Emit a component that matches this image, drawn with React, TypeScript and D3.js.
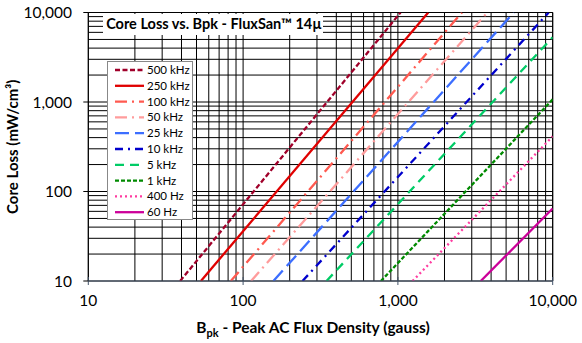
import React from "react";
import * as d3 from "d3";

const seriesNames = ["500 kHz", "250 kHz", "100 kHz", "50 kHz", "25 kHz", "10 kHz", "5 kHz", "1 kHz", "400 Hz", "60 Hz"];
const seriesColors = ["#A0002A", "#E00000", "#FF5A50", "#FF9C9C", "#3C6EFF", "#0000CC", "#00CC66", "#008A00", "#FF3BA0", "#CC0099"];
const seriesDashes = ["5,2.5", "", "12,5,2,5", "12,5,2,5", "14,6", "8,5,2,5", "9,6", "4,2", "2,3", ""];
const s500k = [[39.2, 10], [1040, 10000]];
const s250k = [[53.4, 10], [1570, 10000]];
const s100k = [[83.3, 10], [2590, 10000]];
const s50k = [[112.6, 10], [3780, 10000]];
const s25k = [[157, 10], [5600, 10000]];
const s10k = [[242, 10], [9420, 10000]];
const s5k = [[346, 10], [10000, 5290]];
const s1k = [[777, 10], [10000, 1069]];
const s400 = [[1244, 10], [10000, 413]];
const s60 = [[3431, 10], [10000, 64.6]];
const seriesData = [s500k, s250k, s100k, s50k, s25k, s10k, s5k, s1k, s400, s60];
const xTicks = [10, 100, 1000, 10000];
const yTicks = [10, 100, 1000, 10000];

const W = 582, H = 343;
const L = 88.3, R = 552.7, T = 12.5, B = 281;
const FONT = "Lato, 'Open Sans', sans-serif";

export default function App() {
  const x = d3.scaleLog().domain([10, 10000]).range([L, R]);
  const y = d3.scaleLog().domain([10, 10000]).range([B, T]);
  const fmt = d3.format(",");
  const minor: number[] = [];
  for (let e = 1; e < 4; e++) for (let m = 1; m <= 9; m++) minor.push(m * Math.pow(10, e));
  minor.push(10000);
  const line = d3.line<number[]>().x(d => x(d[0])).y(d => y(d[1]));

  return (
    <svg width={W} height={H} style={{ position: "absolute", left: 0, top: 0, background: "#fff" }}>
      <defs>
        <clipPath id="plot"><rect x={L} y={T} width={R - L} height={B - T} /></clipPath>
      </defs>
      {minor.map((v, i) => (
        <line key={"gx" + i} x1={x(v)} x2={x(v)} y1={T} y2={B} stroke="#000" strokeWidth={1} />
      ))}
      {minor.map((v, i) => (
        <line key={"gy" + i} x1={L} x2={R} y1={y(v)} y2={y(v)} stroke="#000" strokeWidth={1} />
      ))}
      <line x1={L} x2={L} y1={T} y2={B} stroke="#000" strokeWidth={1} />
      <line x1={R} x2={R} y1={T} y2={B} stroke="#000" strokeWidth={1} />
      <line x1={L} x2={R} y1={T} y2={T} stroke="#000" strokeWidth={1} />
      <g clipPath="url(#plot)">
        {seriesData.map((d, i) => (
          <path key={"s" + i} d={line(d) || ""} fill="none" stroke={seriesColors[i]} strokeWidth={2.3}
            strokeDasharray={seriesDashes[i] || undefined} />
        ))}
      </g>
      <line x1={L} x2={R} y1={B} y2={B} stroke="#44546A" strokeWidth={1} />
      {xTicks.map((v, i) => (
        <line key={"xt" + i} x1={x(v)} x2={x(v)} y1={B - 4} y2={B + 4} stroke="#44546A" strokeWidth={1} />
      ))}
      {xTicks.map((v, i) => (
        <text key={"xl" + i} x={x(v)} y={B + 25} textAnchor="middle" fontFamily={FONT} fontSize={15.5} fill="#000">{fmt(v)}</text>
      ))}
      {yTicks.map((v, i) => (
        <line key={"yt" + i} x1={L - 5} x2={L} y1={y(v)} y2={y(v)} stroke="#000" strokeWidth={1} />
      ))}
      {yTicks.map((v, i) => (
        <text key={"yl" + i} x={72} y={y(v) + 5.5} textAnchor="end" fontFamily={FONT} fontSize={15.5} fill="#000">{fmt(v)}</text>
      ))}
      <text transform={`translate(18,${(T + B) / 2}) rotate(-90)`} textAnchor="middle" fontFamily={FONT} fontSize={15} fontWeight="bold" fill="#000">
        Core Loss (mW/cm³)
      </text>
      <text x={313} y={333} textAnchor="middle" fontFamily={FONT} fontSize={15.5} fontWeight="bold" fill="#000">
        B<tspan fontSize={11} dy={4}>pk</tspan><tspan dy={-4}> - Peak AC Flux Density (gauss)</tspan>
      </text>
      <rect x={103} y={14} width={220} height={21} fill="#fff" />
      <text x={214} y={29} textAnchor="middle" fontFamily={FONT} fontSize={14.5} fontWeight="bold" fill="#000">
        Core Loss vs. Bpk - FluxSan™ 14µ
      </text>
      <rect x={107.5} y={61.5} width={85} height={158} fill="#fff" stroke="#888" strokeWidth={1} />
      {seriesNames.map((n, i) => {
        const yy = 70 + i * 15.8;
        return (
          <g key={"lg" + i}>
            <line x1={115} x2={144} y1={yy} y2={yy} stroke={seriesColors[i]} strokeWidth={2.3}
              strokeDasharray={seriesDashes[i] || undefined} />
            <text x={147} y={yy + 4} fontFamily={FONT} fontSize={11.5} fill="#000">{n}</text>
          </g>
        );
      })}
    </svg>
  );
}
